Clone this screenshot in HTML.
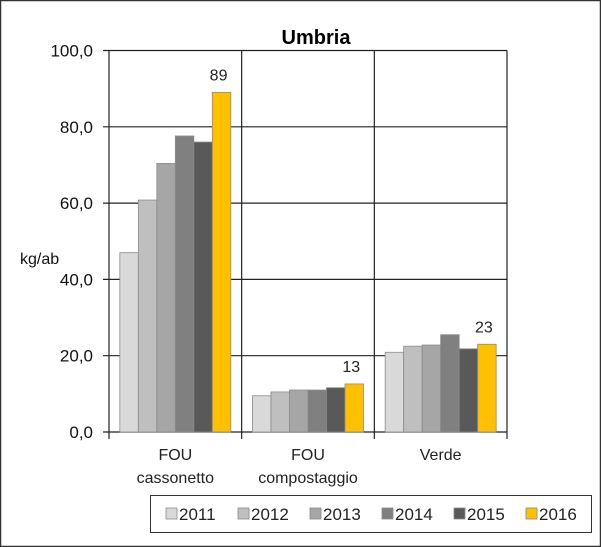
<!DOCTYPE html>
<html><head><meta charset="utf-8"><style>
body{margin:0;background:#fff}
svg{display:block;font-family:"Liberation Sans",Arial,sans-serif}
</style></head><body>
<svg width="601" height="547" viewBox="0 0 601 547">
<rect x="0.5" y="0.5" width="600" height="546" fill="#fff" stroke="#333" stroke-width="1.5"/>
<text x="316" y="44" text-anchor="middle" font-size="20" font-weight="bold" fill="#000">Umbria</text>
<text x="20" y="264" font-size="16" fill="#111">kg/ab</text>
<g id="grid"></g><g id="bars"></g><g id="axes"></g>
<rect x="150.5" y="495.5" width="441" height="37" fill="#fff" stroke="#333" stroke-width="1"/>
<g id="legend"></g>
</svg>
<script>
const categories=[["FOU","cassonetto"],["FOU","compostaggio"],["Verde"]];
const years=["2011","2012","2013","2014","2015","2016"];
const colors=["#d9d9d9","#bfbfbf","#a6a6a6","#808080","#595959","#ffc000"];
const s2011=[47.0,9.5,20.9];
const s2012=[60.8,10.5,22.5];
const s2013=[70.4,11.0,22.8];
const s2014=[77.6,11.0,25.5];
const s2015=[76.0,11.6,21.8];
const s2016=[89.0,12.6,23.0];
const labels2016=["89","13","23"];
const yTicks=[0,20,40,60,80,100];
const yTickLabels=["0,0","20,0","40,0","60,0","80,0","100,0"];
const series=[s2011,s2012,s2013,s2014,s2015,s2016];
const NS="http://www.w3.org/2000/svg";
const X0=109,X1=507,Y0=432,Y1=50.5,yMax=100;
const y=v=>Y0-(v/yMax)*(Y0-Y1);
const cw=(X1-X0)/categories.length;
const bw=18.5;
function mk(t,a,p){const e=document.createElementNS(NS,t);for(const k in a)e.setAttribute(k,a[k]);p.appendChild(e);return e;}
const grid=document.getElementById('grid'),bars=document.getElementById('bars'),axes=document.getElementById('axes'),leg=document.getElementById('legend');
yTicks.forEach((t,i)=>{
 const l=mk('line',{x1:X0-6,x2:X1,y1:y(t),y2:y(t),stroke:'#222','stroke-width':1.2},grid);
 
 
 const tx=mk('text',{x:93,y:y(t)+6,'text-anchor':'end','font-size':17,fill:'#111'},axes);
 tx.textContent=yTickLabels[i];
 
 
});
for(let c=0;c<=categories.length;c++){
 const xx=X0+c*cw;
 const l=mk('line',{x1:xx,x2:xx,y1:Y1,y2:Y0+7,stroke:'#222','stroke-width':1.2},grid);
 
 
}
categories.forEach((cat,c)=>{
 const gx=X0+c*cw+(cw-bw*6)/2;
 series.forEach((s,k)=>{
  const r=mk('rect',{x:gx+k*bw,y:y(s[c]),width:bw,height:Y0-y(s[c]),fill:colors[k],stroke:'#8a8a8a','stroke-width':0.8},bars);
  
  
 });
 const lt=mk('text',{x:gx+5.5*bw-3,y:y(s2016[c])-12,'text-anchor':'middle','font-size':16,fill:'#222'},axes);
 lt.textContent=labels2016[c];
 
 
 cat.forEach((line,j)=>{
  const t=mk('text',{x:X0+(c+0.5)*cw,y:460+j*23,'text-anchor':'middle','font-size':16,fill:'#222'},axes);
  t.textContent=line;
  
  
 });
});
const lx=[167,239,311,383,455,527];
years.forEach((yr,k)=>{
 const r=mk('rect',{x:lx[k]-1,y:508,width:11,height:11,fill:colors[k],stroke:'#8a8a8a','stroke-width':0.8},leg);
 
 
 const t=mk('text',{x:lx[k]+12,y:520,'font-size':17,fill:'#222'},leg);
 t.textContent=yr;
 
 
});
</script>
</body></html>
